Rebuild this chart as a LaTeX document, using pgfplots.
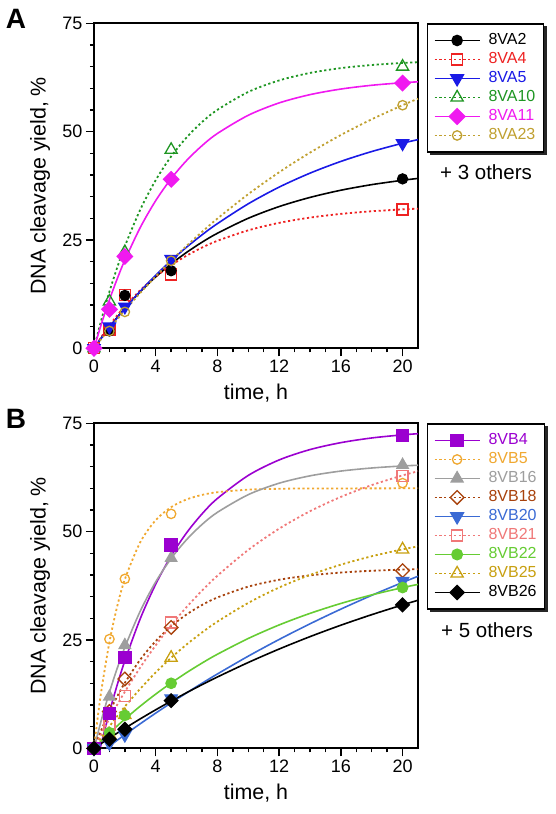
\documentclass[border=0pt]{standalone}
\usepackage{fontspec}
\setmainfont{Liberation Sans}
\usepackage{pgfplots}
\pgfplotsset{compat=1.18}
\usetikzlibrary{backgrounds}

\definecolor{cA2}{HTML}{000000}
\definecolor{cA4}{HTML}{EE2222}
\definecolor{cA5}{HTML}{1A1AE6}
\definecolor{cA10}{HTML}{1E9622}
\definecolor{cA11}{HTML}{F019F0}
\definecolor{cA23}{HTML}{C0A030}
\definecolor{cB4}{HTML}{9B00D0}
\definecolor{cB5}{HTML}{F0A830}
\definecolor{cB16}{HTML}{9E9E9E}
\definecolor{cB18}{HTML}{A8420C}
\definecolor{cB20}{HTML}{3A6AD4}
\definecolor{cB21}{HTML}{F07878}
\definecolor{cB22}{HTML}{66CC33}
\definecolor{cB25}{HTML}{C8A010}
\definecolor{cB26}{HTML}{000000}

\pgfplotsset{
  panel/.style={
    scale only axis, width=324pt, height=325pt,
    xmin=0, xmax=21, ymin=0, ymax=75,
    xtick={0,4,...,20}, minor x tick num=3,
    ytick={0,25,50,75}, minor y tick num=4,
    tick align=outside, tick pos=left,
    major tick length=8pt, minor tick length=4pt,
    every tick/.style={black, line width=1.4pt},
    axis line style={line width=1.8pt},
    /pgf/number format/assume math mode=true,
    tick label style={font=\fontsize{18}{20}\selectfont},
    label style={font=\fontsize{21.4}{24}\selectfont},
    xlabel={time, h}, ylabel={DNA cleavage yield, \%},
    xlabel style={at={(axis description cs:0.5,-0.158)}, anchor=base},
    ylabel style={at={(axis description cs:-0.1667,0.5)}, anchor=center},
    clip=false,
    legend cell align=left,
    legend image code/.code={\draw[mark repeat=2,mark phase=2,##1] plot coordinates {(0pt,0pt) (22.5pt,0pt) (45pt,0pt)};},
    legend style={at={(1.028,1)}, anchor=north west, draw=black, line width=1.3pt, fill=white,
      font=\fontsize{16}{18}\selectfont,
      inner xsep=6pt, inner ysep=7pt, row sep=0pt,
      nodes={inner sep=2pt, text height=11.5pt, text depth=3.5pt},
      /tikz/every odd column/.append style={column sep=6pt}},
  },
  sl/.style={line width=1.6pt, solid},
  dl/.style={line width=1.8pt, dash pattern=on 2.2pt off 2.6pt},
  mk/.style={only marks, line width=1.3pt, forget plot},
  fit/.style={smooth, forget plot, no markers},
}

\begin{document}
\begin{tikzpicture}
\path[use as bounding box] (0,0) rectangle (556pt,-814pt);

% ---------------- Panel A ----------------
\begin{axis}[panel, at={(94pt,-348.3pt)}, anchor=south west, legend style={name=legA}]
% fitted curves
\addplot[fit, cA2, sl] coordinates {(0,0)(0.5,2.53)(1,4.91)(1.5,7.14)(2,9.25)(3,13.08)(4,16.48)(5,19.48)(6,22.13)(7,24.48)(8,26.55)(10,30.01)(12,32.71)(14,34.82)(16,36.48)(18,37.77)(20,38.78)(21,39.20)};
\addplot[fit, cA4, dl] coordinates {(0,0)(0.5,2.74)(1,5.26)(1.5,7.57)(2,9.68)(3,13.40)(4,16.53)(5,19.16)(6,21.38)(7,23.24)(8,24.81)(10,27.23)(12,28.95)(14,30.16)(16,31.02)(18,31.63)(20,32.06)(21,32.23)};
\addplot[fit, cA5, sl] coordinates {(0,0)(0.5,2.45)(1,4.78)(1.5,7.02)(2,9.17)(3,13.18)(4,16.87)(5,20.24)(6,23.34)(7,26.18)(8,28.78)(10,33.35)(12,37.20)(14,40.42)(16,43.13)(18,45.41)(20,47.33)(21,48.16)};
\addplot[fit, cA10, dl] coordinates {(0,0)(0.5,6.89)(1,13.07)(1.5,18.60)(2,23.57)(3,32.02)(4,38.81)(5,44.28)(6,48.66)(7,52.20)(8,55.04)(10,59.16)(12,61.82)(14,63.55)(16,64.66)(18,65.38)(20,65.85)(21,66.01)};
\addplot[fit, cA11, sl] coordinates {(0,0)(0.5,5.86)(1,11.18)(1.5,15.99)(2,20.35)(3,27.89)(4,34.08)(5,39.16)(6,43.33)(7,46.76)(8,49.58)(10,53.78)(12,56.63)(14,58.54)(16,59.83)(18,60.70)(20,61.29)(21,61.50)};
\addplot[fit, cA23, dl] coordinates {(0,0)(0.5,2.28)(1,4.50)(1.5,6.66)(2,8.76)(3,12.79)(4,16.61)(5,20.22)(6,23.64)(7,26.87)(8,29.94)(10,35.58)(12,40.63)(14,45.16)(16,49.22)(18,52.85)(20,56.10)(21,57.60)};
% data points
\addplot[mk, cA4, mark=square, mark size=5.5pt] coordinates {(0,0)(1,4.2)(2,12.3)(5,17)(20,32)};
\addplot[mk, cA2, mark=*, mark size=5pt] coordinates {(0,0)(1,4)(2,12.2)(5,17.9)(20,39.1)};
\addplot[mk, cA5, mark=triangle*, mark size=7pt, mark options={rotate=180}] coordinates {(0,0)(1,5)(2,9.6)(5,20.6)(20,47.3)};
\addplot[mk, cA10, mark=triangle, mark size=7pt] coordinates {(0,0)(1,10.8)(2,22.2)(5,45.8)(20,65)};
\addplot[mk, cA23, mark=o, mark size=4.7pt] coordinates {(0,0)(1,4)(2,8.4)(5,20.2)(20,56.1)};
\addplot[mk, cA11, mark=square*, mark size=5.4pt, mark options={rotate=45}] coordinates {(0,0)(1,9)(2,21.2)(5,39)(20,61.2)};
% legend
\addlegendimage{cA2, sl, mark=*, mark size=5pt}
\addlegendentry{\textcolor{cA2}{8VA2}}
\addlegendimage{cA4, dl, mark=square, mark size=5.5pt, mark options={solid, line width=1.3pt}}
\addlegendentry{\textcolor{cA4}{8VA4}}
\addlegendimage{cA5, sl, mark=triangle*, mark size=7pt, mark options={rotate=180}}
\addlegendentry{\textcolor{cA5}{8VA5}}
\addlegendimage{cA10, dl, mark=triangle, mark size=7pt, mark options={solid, line width=1.3pt}}
\addlegendentry{\textcolor{cA10}{8VA10}}
\addlegendimage{cA11, sl, mark=square*, mark size=5.4pt, mark options={rotate=45}}
\addlegendentry{\textcolor{cA11}{8VA11}}
\addlegendimage{cA23, dl, mark=o, mark size=4.7pt, mark options={solid, line width=1.3pt}}
\addlegendentry{\textcolor{cA23}{8VA23}}
\end{axis}

% ---------------- Panel B ----------------
\begin{axis}[panel, at={(94pt,-748.3pt)}, anchor=south west, legend style={name=legB}]
\addplot[fit, cB4, sl] coordinates {(0.4,0)(0.5,1.46)(1,8.35)(1.5,14.58)(2,20.21)(3,29.93)(4,37.87)(5,44.39)(6,49.72)(7,54.09)(8,57.66)(10,62.98)(12,66.55)(14,68.94)(16,70.54)(18,71.62)(20,72.34)(21,72.60)};
\addplot[fit, cB5, dl] coordinates {(0,0)(0.25,7.38)(0.5,13.85)(1,24.50)(1.5,32.70)(2,39.01)(3,47.58)(4,52.65)(5,55.66)(6,57.43)(7,58.48)(8,59.10)(10,59.69)(12,59.89)(14,59.96)(21,60.00)};
\addplot[fit, cB16, sl] coordinates {(0,0)(0.5,6.82)(1,12.93)(1.5,18.41)(2,23.32)(3,31.68)(4,38.41)(5,43.81)(6,48.15)(7,51.65)(8,54.46)(10,58.54)(12,61.18)(14,62.88)(16,63.98)(18,64.69)(20,65.16)(21,65.32)};
\addplot[fit, cB18, dl] coordinates {(0,0)(0.5,4.44)(1,8.40)(1.5,11.94)(2,15.11)(3,20.47)(4,24.74)(5,28.16)(6,30.89)(7,33.07)(8,34.81)(10,37.31)(12,38.90)(14,39.91)(16,40.56)(18,40.97)(20,41.24)(21,41.33)};
\addplot[fit, cB20, sl] coordinates {(0.8,0)(1,0.53)(1.5,1.85)(2,3.14)(3,5.67)(4,8.12)(5,10.49)(6,12.78)(7,15.01)(8,17.16)(10,21.27)(12,25.12)(14,28.73)(16,32.12)(18,35.30)(20,38.28)(21,39.70)};
\addplot[fit, cB21, dl] coordinates {(0,0)(0.5,3.50)(1,6.84)(1.5,10.02)(2,13.05)(3,18.67)(4,23.77)(5,28.40)(6,32.59)(7,36.39)(8,39.83)(10,45.79)(12,50.69)(14,54.71)(16,58.02)(18,60.74)(20,62.98)(21,63.94)};
\addplot[fit, cB22, sl] coordinates {(0,0)(0.5,1.78)(1,3.50)(1.5,5.15)(2,6.74)(3,9.74)(4,12.51)(5,15.08)(6,17.46)(7,19.67)(8,21.71)(10,25.35)(12,28.47)(14,31.14)(16,33.43)(18,35.40)(20,37.08)(21,37.83)};
\addplot[fit, cB25, dl] coordinates {(0,0)(0.5,2.59)(1,5.05)(1.5,7.40)(2,9.63)(3,13.76)(4,17.51)(5,20.89)(6,23.96)(7,26.73)(8,29.24)(10,33.56)(12,37.11)(14,40.01)(16,42.38)(18,44.32)(20,45.92)(21,46.60)};
\addplot[fit, cB26, sl] coordinates {(0,0)(0.5,1.19)(1,2.36)(1.5,3.50)(2,4.62)(3,6.80)(4,8.89)(5,10.90)(6,12.83)(7,14.68)(8,16.46)(10,19.81)(12,22.91)(14,25.77)(16,28.41)(18,30.84)(20,33.10)(21,34.16)};
% data points
\addplot[mk, cB5, mark=o, mark size=4.7pt] coordinates {(0,0)(1,25.2)(2,39.1)(5,54.1)(20,61.2)};
\addplot[mk, cB21, mark=square, mark size=5.5pt] coordinates {(0,0)(1,5.4)(2,12.1)(5,29)(20,62.8)};
\addplot[mk, cB18, mark=square, mark size=4.8pt, mark options={rotate=45}] coordinates {(0,0)(1,8.5)(2,16)(5,27.9)(20,41)};
\addplot[mk, cB25, mark=triangle, mark size=7pt] coordinates {(0,0)(1,3.2)(2,7.7)(5,20.9)(20,45.9)};
\addplot[mk, cB16, mark=triangle*, mark size=6.5pt] coordinates {(0,0)(1,11.9)(2,23.8)(5,43.9)(20,65.4)};
\addplot[mk, cB4, mark=square*, mark size=6pt] coordinates {(0,0)(1,8.1)(2,21)(5,46.9)(20,72.2)};
\addplot[mk, cB20, mark=triangle*, mark size=7pt, mark options={rotate=180}] coordinates {(0,0)(1,1.2)(2,3.1)(5,11.5)(20,38.6)};
\addplot[mk, cB22, mark=*, mark size=5.2pt] coordinates {(0,0)(1,3.6)(2,7.6)(5,15)(20,37.1)};
\addplot[mk, cB26, mark=square*, mark size=4.8pt, mark options={rotate=45}] coordinates {(0,0)(1,2.1)(2,4.4)(5,11)(20,33.1)};
% legend
\addlegendimage{cB4, sl, mark=square*, mark size=6pt}
\addlegendentry{\textcolor{cB4}{8VB4}}
\addlegendimage{cB5, dl, mark=o, mark size=4.7pt, mark options={solid, line width=1.3pt}}
\addlegendentry{\textcolor{cB5}{8VB5}}
\addlegendimage{cB16, sl, mark=triangle*, mark size=6.5pt}
\addlegendentry{\textcolor{cB16}{8VB16}}
\addlegendimage{cB18, dl, mark=square, mark size=4.8pt, mark options={solid, rotate=45, line width=1.3pt}}
\addlegendentry{\textcolor{cB18}{8VB18}}
\addlegendimage{cB20, sl, mark=triangle*, mark size=7pt, mark options={rotate=180}}
\addlegendentry{\textcolor{cB20}{8VB20}}
\addlegendimage{cB21, dl, mark=square, mark size=5.5pt, mark options={solid, line width=1.3pt}}
\addlegendentry{\textcolor{cB21}{8VB21}}
\addlegendimage{cB22, sl, mark=*, mark size=5.2pt}
\addlegendentry{\textcolor{cB22}{8VB22}}
\addlegendimage{cB25, dl, mark=triangle, mark size=7pt, mark options={solid, line width=1.3pt}}
\addlegendentry{\textcolor{cB25}{8VB25}}
\addlegendimage{cB26, sl, mark=square*, mark size=4.8pt, mark options={rotate=45}}
\addlegendentry{\textcolor{cB26}{8VB26}}
\end{axis}

\begin{scope}[on background layer]
\fill[black!85] ([shift={(2.5pt,-2.5pt)}]legA.south west) rectangle ([shift={(2.5pt,-2.5pt)}]legA.north east);
\fill[black!85] ([shift={(2.5pt,-2.5pt)}]legB.south west) rectangle ([shift={(2.5pt,-2.5pt)}]legB.north east);
\end{scope}

\node[font=\bfseries\fontsize{28}{30}\selectfont] at (16pt,-18.5pt) {A};
\node[font=\bfseries\fontsize{28}{30}\selectfont] at (16pt,-418.5pt) {B};
\node[font=\fontsize{20.5}{22}\selectfont] at (486pt,-172pt) {+ 3 others};
\node[font=\fontsize{20.5}{22}\selectfont] at (487pt,-630pt) {+ 5 others};
\end{tikzpicture}
\end{document}
